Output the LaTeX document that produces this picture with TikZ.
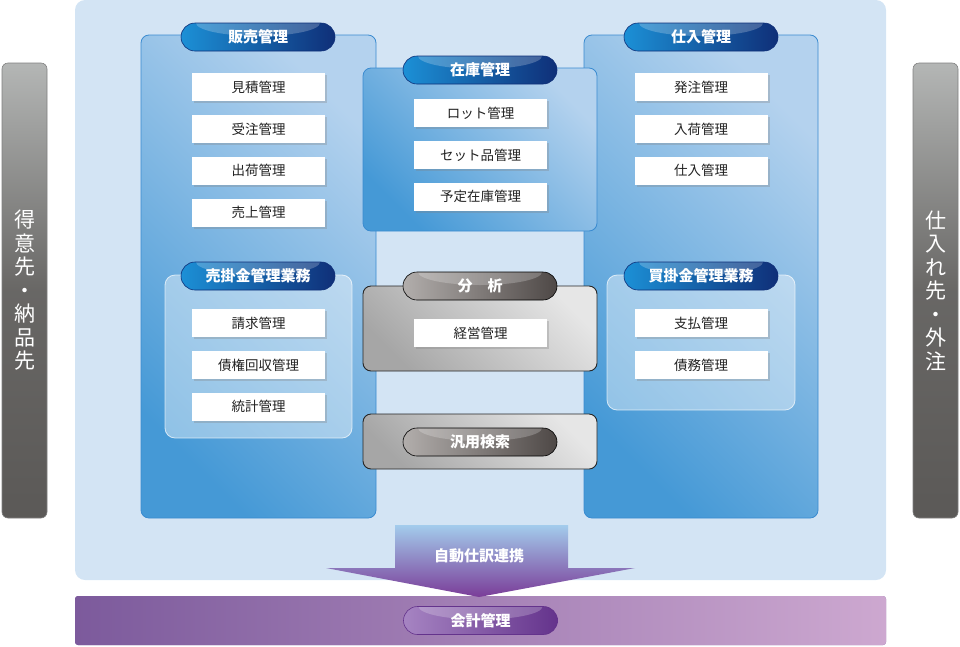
\documentclass[tikz,border=0pt]{standalone}
\usepackage{fontspec}
\setmainfont{Noto Sans CJK JP}
\usetikzlibrary{positioning,shadows}

\definecolor{bgblue}{HTML}{D3E4F4}
\definecolor{panellight}{HTML}{B4D2EE}
\definecolor{paneldark}{HTML}{4599D6}
\definecolor{panelline}{HTML}{3A8BD0}
\definecolor{pillleft}{HTML}{1C90D6}
\definecolor{pillright}{HTML}{0F2F78}
\definecolor{graylight}{HTML}{E6E6E6}
\definecolor{graydark}{HTML}{A6A6A6}
\definecolor{gpillleft}{HTML}{B2AEAC}
\definecolor{gpillright}{HTML}{4E4846}
\definecolor{bartop}{HTML}{B4B6B5}
\definecolor{barbottom}{HTML}{5B5957}
\definecolor{bandleft}{HTML}{7C5A9C}
\definecolor{bandright}{HTML}{CDA8D0}
\definecolor{kpillleft}{HTML}{A684C2}
\definecolor{kpillright}{HTML}{64338C}
\definecolor{arrowtop}{HTML}{A3CCEC}
\definecolor{arrowbottom}{HTML}{7A3C98}
\definecolor{itemtext}{HTML}{222222}

\begin{document}
\begin{tikzpicture}[x=1pt, y=-1pt, node distance=13.5pt,
  panel/.style={draw=panelline, line width=0.8pt, rounded corners=8pt, top color=panellight, bottom color=paneldark, shading angle=-45},
  subpanel/.style={draw=white, draw opacity=0.7, fill=white, fill opacity=0.4, rounded corners=10pt, line width=0.8pt},
  graypanel/.style={draw=black!85, line width=0.9pt, rounded corners=8pt, top color=graylight, bottom color=graydark, shading angle=-45},
  pill/.style={draw=pillright, line width=0.6pt, rounded corners=14pt, minimum width=154pt, minimum height=28pt, inner sep=0pt, left color=pillleft, right color=pillright, text=white, font=\fontsize{15}{17}\selectfont\bfseries,
    path picture={\fill[white, opacity=0.22] (path picture bounding box.north) ellipse (62pt and 13pt);}},
  graypill/.style={pill, draw=black, left color=gpillleft, right color=gpillright},
  kpill/.style={pill, draw=kpillright, left color=kpillleft, right color=kpillright},
  item/.style={fill=white, minimum width=133pt, minimum height=28pt, inner sep=0pt, text=itemtext, font=\fontsize{13.5}{15}\selectfont,
    drop shadow={shadow xshift=2pt, shadow yshift=-2pt, opacity=0.3}},
  sidebar/.style={draw=black!50, line width=0.6pt, rounded corners=6pt, minimum width=45pt, minimum height=455pt, top color=bartop, bottom color=barbottom, middle color=barbottom!85!bartop, text=white, align=center, font=\fontsize{21}{23.5}\selectfont}
  ]
  \useasboundingbox (0,0) rectangle (960,646);

  \fill[bgblue, rounded corners=10pt] (75,0) rectangle (886,580);
  \node[fill=bandleft, minimum width=811pt, minimum height=49pt, inner sep=0pt, left color=bandleft, right color=bandright, rounded corners=3pt] (band) at (480.5,620.5) {};

  \node[sidebar] (tokui) at (24.5,290.5) {得\\意\\先\\・\\納\\品\\先};
  \node[sidebar] (shiiresaki) at (935.5,290.5) {仕\\入\\れ\\先\\・\\外\\注};

  \node[panel, minimum width=235pt, minimum height=483pt] (sales) at (258.5,276.5) {};
  \node[panel, minimum width=234pt, minimum height=483pt] (purch) at (701,276.5) {};
  \node[panel, minimum width=234pt, minimum height=163pt] (stock) at (480,149.5) {};
  \node[graypanel, minimum width=234pt, minimum height=85pt] (analysis) at (480,328.5) {};
  \node[graypanel, minimum width=234pt, minimum height=55pt] (search) at (480,441.5) {};
  \node[subpanel, minimum width=187pt, minimum height=163pt] (receivable) at (258.5,356.5) {};
  \node[subpanel, minimum width=188pt, minimum height=135pt] (payable) at (701,342.5) {};

  \node[pill] (salesT) at (258,37) {販売管理};
  \node[pill] (purchT) at (701,37) {仕入管理};
  \node[pill] (stockT) at (480,70) {在庫管理};
  \node[graypill] (analysisT) at (480,286) {分　析};
  \node[graypill] (searchT) at (480,442) {汎用検索};
  \node[pill] (receivableT) at (258,276) {売掛金管理業務};
  \node[pill] (payableT) at (701,276) {買掛金管理業務};

  \node[item] (estimate) at (258.5,87) {見積管理};
  \node[item, below=of estimate] (order) {受注管理};
  \node[item, below=of order] (shipment) {出荷管理};
  \node[item, below=of shipment] (sale) {売上管理};

  \node[item] (billing) at (258.5,323) {請求管理};
  \node[item, below=of billing] (collection) {債権回収管理};
  \node[item, below=of collection] (statistics) {統計管理};

  \node[item] (lot) at (480.5,113) {ロット管理};
  \node[item, below=of lot] (setitem) {セット品管理};
  \node[item, below=of setitem] (planned) {予定在庫管理};

  \node[item] (management) at (480.5,333) {経営管理};

  \node[item] (purchorder) at (701,87) {発注管理};
  \node[item, below=of purchorder] (receipt) {入荷管理};
  \node[item, below=of receipt] (purchase) {仕入管理};

  \node[item] (payment) at (701,323) {支払管理};
  \node[item, below=of payment] (debt) {債務管理};

  \shade[top color=arrowtop, bottom color=arrowbottom] (395,525) -- (568,525) -- (568,568) -- (635,568) -- (479,597) -- (326,568) -- (395,568) -- cycle;
  \node[text=white, font=\fontsize{15}{17}\selectfont\bfseries] (journal) at (479,556) {自動仕訳連携};

  \node[kpill] (accountingT) at (band) {会計管理};
\end{tikzpicture}
\end{document}
